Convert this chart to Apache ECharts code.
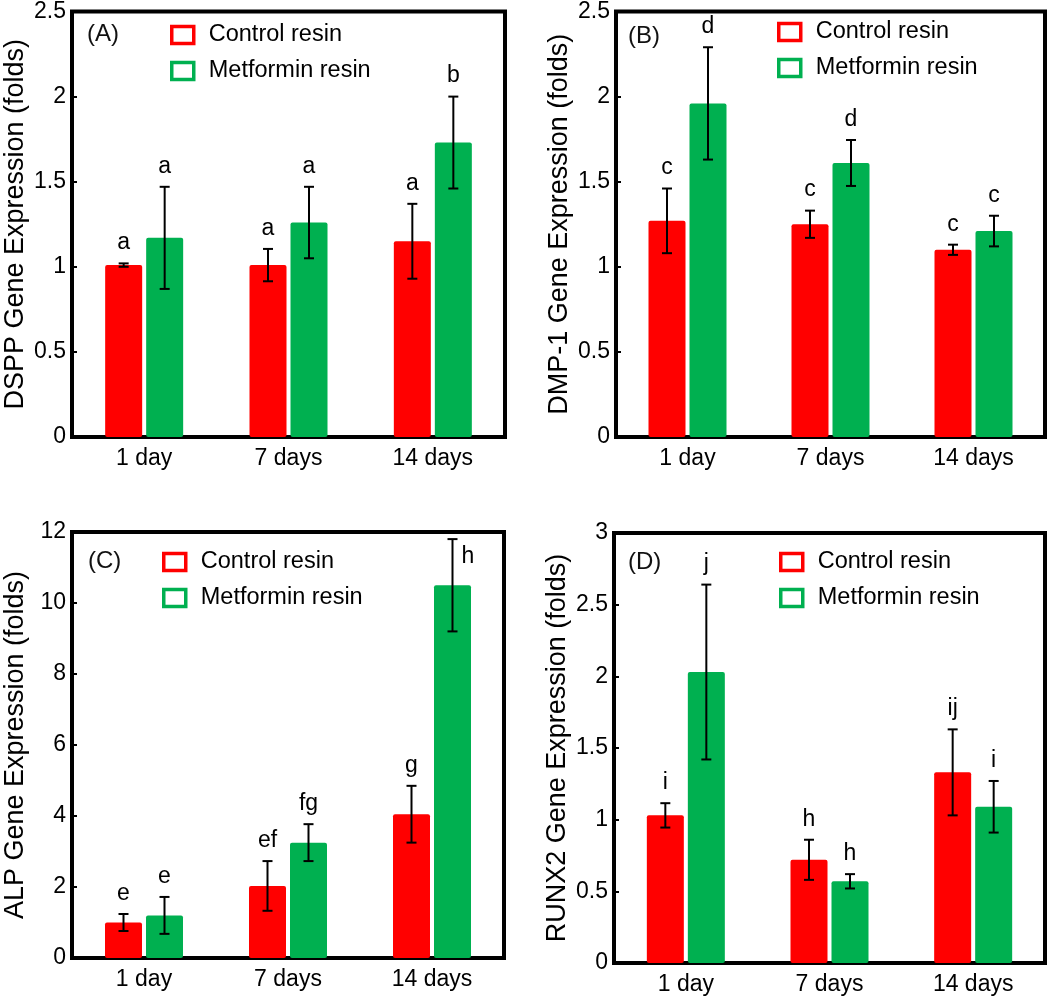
<!DOCTYPE html>
<html>
<head>
<meta charset="utf-8">
<script src="https://cdn.jsdelivr.net/npm/echarts@6/dist/echarts.min.js"></script>
<style>
  html, body { margin: 0; padding: 0; background: #fff; }
  #chart { width: 1050px; height: 996px; }
</style>
</head>
<body>
<div id="chart"></div>
<script>
// ---------- data ----------
const categories = ['1 day', '7 days', '14 days'];
const seriesNames = ['Control resin', 'Metformin resin'];

const panelLabels = ['(A)', '(B)', '(C)', '(D)'];
const yTitles = ['DSPP Gene Expression (folds)', 'DMP-1 Gene Expression (folds)',
                 'ALP Gene Expression (folds)', 'RUNX2 Gene Expression (folds)'];

// Panel A (DSPP)
const dsppControl = [1.01, 1.01, 1.15];
const dsppControlErr = [0.01, 0.095, 0.22];
const dsppMetformin = [1.17, 1.26, 1.73];
const dsppMetforminErr = [0.30, 0.21, 0.27];
const dsppControlLetters = ['a', 'a', 'a'];
const dsppMetforminLetters = ['a', 'a', 'b'];

// Panel B (DMP-1)
const dmpControl = [1.27, 1.25, 1.10];
const dmpControlErr = [0.19, 0.08, 0.03];
const dmpMetformin = [1.96, 1.61, 1.21];
const dmpMetforminErr = [0.33, 0.135, 0.09];
const dmpControlLetters = ['c', 'c', 'c'];
const dmpMetforminLetters = ['d', 'd', 'c'];

// Panel C (ALP)
const alpControl = [1.0, 2.03, 4.05];
const alpControlErr = [0.24, 0.70, 0.80];
const alpMetformin = [1.20, 3.25, 10.5];
const alpMetforminErr = [0.52, 0.52, 1.30];
const alpControlLetters = ['e', 'ef', 'g'];
const alpMetforminLetters = ['e', 'fg', 'h'];

// Panel D (RUNX2)
const runxControl = [1.03, 0.72, 1.33];
const runxControlErr = [0.085, 0.14, 0.30];
const runxMetformin = [2.03, 0.57, 1.09];
const runxMetforminErr = [0.61, 0.05, 0.18];
const runxControlLetters = ['i', 'h', 'ij'];
const runxMetforminLetters = ['j', 'h', 'i'];

// axis ranges
const yMin = [0, 0, 0, 0];
const yMax = [2.5, 2.5, 12, 3];
const yInterval = [0.5, 0.5, 2, 0.5];

// ---------- styling / layout ----------
const FONT = 'Liberation Sans, Arial, sans-serif';
const RED = '#FF0000';
const GREEN = '#00B050';
const BAR_W = 37;
const BAR_GAP_PX = 4;
const SHIFT = (BAR_W + BAR_GAP_PX) / 2;

const grids = [
  { left: 72,  top: 9,   width: 433, height: 428 },
  { left: 616, top: 9,   width: 429, height: 428 },
  { left: 72,  top: 532, width: 432, height: 426 },
  { left: 614, top: 533, width: 431, height: 430 }
];
const legendPos = [
  { left: 170, top: 23 },
  { left: 777, top: 20 },
  { left: 162, top: 550 },
  { left: 779, top: 550 }
];
const labelPos = [
  { left: 87,  top: 22 },
  { left: 628, top: 24 },
  { left: 88,  top: 549 },
  { left: 628, top: 550 }
];

const panels = [
  [dsppControl, dsppControlErr, dsppMetformin, dsppMetforminErr, dsppControlLetters, dsppMetforminLetters],
  [dmpControl, dmpControlErr, dmpMetformin, dmpMetforminErr, dmpControlLetters, dmpMetforminLetters],
  [alpControl, alpControlErr, alpMetformin, alpMetforminErr, alpControlLetters, alpMetforminLetters],
  [runxControl, runxControlErr, runxMetformin, runxMetforminErr, runxControlLetters, runxMetforminLetters]
];

function errorRenderer(sign, letters) {
  return function (params, api) {
    const i = api.value(0), v = api.value(1), e = api.value(2);
    const x = api.coord([i, v])[0] + sign * SHIFT;
    const yt = api.coord([i, v + e])[1];
    const yb = api.coord([i, v - e])[1];
    const cs = params.coordSys;
    const capHalf = 5;
    const st = { stroke: '#000', lineWidth: 2 };
    const children = [
      { type: 'line', shape: { x1: x, y1: yt, x2: x, y2: yb }, style: st },
      { type: 'line', shape: { x1: x - capHalf, y1: yt, x2: x + capHalf, y2: yt }, style: st },
      { type: 'line', shape: { x1: x - capHalf, y1: yb, x2: x + capHalf, y2: yb }, style: st }
    ];
    const txt = letters[params.dataIndex];
    const tooHigh = (yt - 32) < cs.y;
    children.push({
      type: 'text',
      style: {
        text: txt,
        x: tooHigh ? x + 9 : x,
        y: tooHigh ? yt + 18 : yt - 9,
        align: tooHigh ? 'left' : 'center',
        verticalAlign: tooHigh ? 'middle' : 'bottom',
        font: '23px ' + FONT,
        fill: '#000'
      }
    });
    return { type: 'group', children: children };
  };
}

const option = {
  animation: false,
  backgroundColor: '#fff',
  title: [], grid: [], xAxis: [], yAxis: [], legend: [], series: []
};

panels.forEach(function (p, k) {
  const [ctrl, ctrlErr, met, metErr, ctrlL, metL] = p;
  option.title.push({
    text: panelLabels[k], left: labelPos[k].left, top: labelPos[k].top, padding: 0,
    textStyle: { fontFamily: FONT, fontSize: 24, fontWeight: 'normal', color: '#111' }
  });
  option.grid.push(Object.assign({
    show: true, borderColor: '#000', borderWidth: 4, backgroundColor: 'transparent'
  }, grids[k]));
  option.xAxis.push({
    type: 'category', gridIndex: k, data: categories,
    axisLine: { lineStyle: { color: '#000', width: 4 } },
    axisTick: { show: false },
    axisLabel: { color: '#000', fontFamily: FONT, fontSize: 23, margin: 10 }
  });
  option.yAxis.push({
    type: 'value', gridIndex: k, min: yMin[k], max: yMax[k], interval: yInterval[k],
    name: yTitles[k], nameLocation: 'middle', nameGap: 43,
    nameTextStyle: { color: '#000', fontFamily: FONT, fontSize: 27 },
    axisLine: { show: true, lineStyle: { color: '#000', width: 3 } },
    axisTick: { show: true, inside: true, length: 5, lineStyle: { color: '#000', width: 2 } },
    splitLine: { show: false },
    axisLabel: { color: '#000', fontFamily: FONT, fontSize: 23, margin: 6 }
  });
  option.legend.push({
    orient: 'vertical', left: legendPos[k].left, top: legendPos[k].top,
    padding: 0, itemGap: 12, itemWidth: 22, itemHeight: 17, icon: 'rect',
    selectedMode: false,
    textStyle: { color: '#000', fontFamily: FONT, fontSize: 23.5, lineHeight: 24, padding: [0, 0, 0, 10] },
    data: [
      { name: seriesNames[0], itemStyle: { color: '#fff', borderColor: RED, borderWidth: 3.5 } },
      { name: seriesNames[1], itemStyle: { color: '#fff', borderColor: GREEN, borderWidth: 3.5 } }
    ]
  });
  option.series.push({
    name: seriesNames[0], type: 'bar', xAxisIndex: k, yAxisIndex: k,
    data: ctrl, barWidth: BAR_W, barGap: (BAR_GAP_PX / BAR_W * 100) + '%',
    itemStyle: { color: RED, borderRadius: 2 }
  });
  option.series.push({
    name: seriesNames[1], type: 'bar', xAxisIndex: k, yAxisIndex: k,
    data: met, barWidth: BAR_W, barGap: (BAR_GAP_PX / BAR_W * 100) + '%',
    itemStyle: { color: GREEN, borderRadius: 2 }
  });
  option.series.push({
    type: 'custom', xAxisIndex: k, yAxisIndex: k, z: 5,
    renderItem: errorRenderer(-1, ctrlL),
    data: ctrl.map(function (v, i) { return [i, v, ctrlErr[i]]; })
  });
  option.series.push({
    type: 'custom', xAxisIndex: k, yAxisIndex: k, z: 5,
    renderItem: errorRenderer(1, metL),
    data: met.map(function (v, i) { return [i, v, metErr[i]]; })
  });
});

const chart = echarts.init(document.getElementById('chart'), null, { renderer: 'canvas' });
chart.setOption(option);
</script>
</body>
</html>
